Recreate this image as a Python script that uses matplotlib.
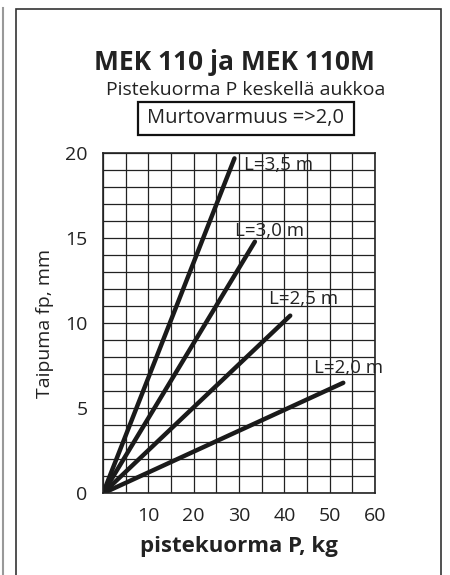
import matplotlib.pyplot as plt
from matplotlib.patches import Rectangle
import numpy as np

# end points of the deflection lines (all start at origin)
spans = ['L=2,0 m', 'L=2,5 m', 'L=3,0 m', 'L=3,5 m']
end_load = [53.0, 41.3, 33.5, 29.0]
end_defl = [6.5, 10.45, 14.8, 19.7]
label_pos = [(46.6, 7.35), (36.6, 11.4), (29.1, 15.45), (31.2, 19.3)]

xticks = [10, 20, 30, 40, 50, 60]
yticks = [0, 5, 10, 15, 20]

plt.rcParams['font.family'] = ['Open Sans', 'DejaVu Sans']

fig = plt.figure(figsize=(4.5, 5.75), dpi=100)
W, H = 450, 575

# outer frames
fig.add_artist(Rectangle((16 / W, -0.1), (441 - 16) / W, (1 - 9 / H) + 0.1,
                         transform=fig.transFigure, fill=False,
                         edgecolor='#333333', linewidth=1.2))
fig.add_artist(plt.Line2D([3 / W, 3 / W], [0, 1 - 8 / H], transform=fig.transFigure,
                          color='#999999', linewidth=1.5))

ax = fig.add_axes([103 / W, 1 - 493.3 / H, (375 - 103) / W, (493.3 - 153.3) / H])
ax.set_xlim(0, 60)
ax.set_ylim(0, 20)
ax.set_xticks(np.arange(0, 61, 5), minor=True)
ax.set_yticks(np.arange(0, 21, 1), minor=True)
ax.set_xticks(xticks)
ax.set_yticks(yticks)
ax.grid(True, which='both', color='#222222', linewidth=0.9)
ax.set_axisbelow(True)
ax.tick_params(which='both', length=0)
ax.tick_params(axis='x', pad=10, labelsize=14, colors='#222222')
ax.tick_params(axis='y', pad=11, labelsize=14, colors='#222222')
for s in ax.spines.values():
    s.set_color('#222222')
    s.set_linewidth(1.2)

for name, x1, y1, (lx, ly) in zip(spans, end_load, end_defl, label_pos):
    ax.plot([0, x1], [0, y1], color='#1a1a1a', linewidth=3.2, solid_capstyle='round')
    ax.text(lx, ly, name, fontsize=13.5, va='center', ha='left', color='#222222')

ax.set_ylabel('Taipuma fp, mm', fontsize=14, color='#222222', labelpad=8)
ax.set_xlabel('pistekuorma P, kg', fontsize=16, fontweight='bold', color='#222222', labelpad=8)

fig.text(234 / W, 1 - 62 / H, 'MEK 110 ja MEK 110M', fontsize=19, fontweight='bold',
         ha='center', va='center', color='#222222')
fig.text(246 / W, 1 - 90 / H, 'Pistekuorma P keskellä aukkoa', fontsize=14,
         ha='center', va='center', color='#222222')
fig.text(246 / W, 1 - 118 / H, 'Murtovarmuus =>2,0', fontsize=14.5,
         ha='center', va='center', color='#222222')
fig.add_artist(Rectangle((138 / W, 1 - 135 / H), (354 - 138) / W, 33 / H,
                         transform=fig.transFigure, fill=False,
                         edgecolor='#111111', linewidth=1.6))

fig.savefig('out.png', dpi=100)
